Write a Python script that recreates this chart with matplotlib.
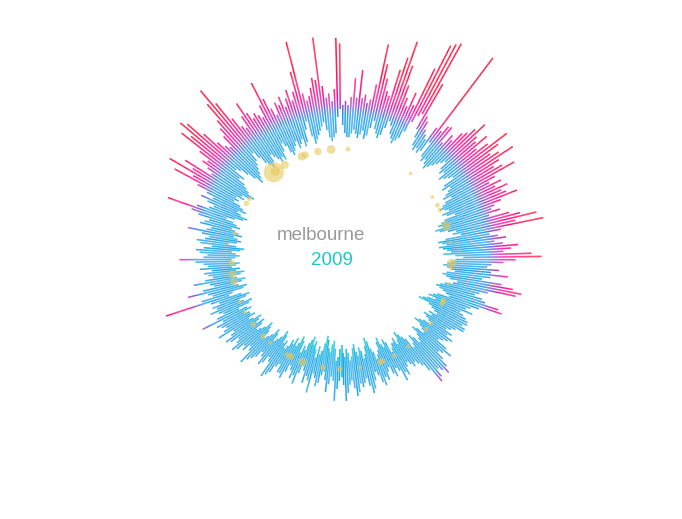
import numpy as np
import matplotlib
matplotlib.use("Agg")
import matplotlib.pyplot as plt
from matplotlib.collections import LineCollection
from matplotlib.colors import LinearSegmentedColormap

# daily max / min temperature (deg C)
max_jan = [22, 23, 22, 24, 28.8, 24, 31, 24, 25, 23, 24, 28, 38.4, 33.5, 30, 27, 26, 33, 36.5, 41,
           35, 30, 27, 25, 29, 26, 36.5, 43.4, 44.3, 45.1, 34]
min_jan = [17, 15, 14, 14, 15, 16, 15, 14, 15, 16, 14, 15, 17, 19, 17, 16, 15, 16, 18, 20,
           19, 17, 16, 15, 16, 17, 19, 22, 24, 25, 21]
max_feb = [25, 24, 22, 21, 20, 24, 46.4, 24, 26, 26.4, 22, 25, 24, 27, 28, 30, 32.6, 29, 28, 31,
           27, 30, 35.4, 32, 29, 31, 34.7, 30]
min_feb = [19, 17, 16, 17, 16, 17, 20, 16, 15, 16, 15, 14, 15, 16, 17, 18, 19, 17, 16, 17,
           15, 16, 17, 18, 15, 14, 16, 15]
max_mar = [28, 30, 33, 27, 25, 28, 26, 29, 27, 28, 30.6, 26, 24, 23, 25, 22, 27, 29.6, 33.6, 28,
           35, 24, 21, 23, 25, 22, 24, 27.8, 26, 24, 31]
min_mar = [14, 13, 15, 13, 12, 11, 12, 13, 11, 12, 14, 11, 10, 9, 10, 8, 9, 11, 13, 12,
           14, 10, 8, 9, 10, 8, 9, 10, 11, 9, 12]
max_apr = [33.5, 27, 24, 21, 20, 23, 21, 25.3, 21, 19, 24, 27, 29.3, 28, 21, 19, 18, 20, 21, 24.6,
           25.8, 20, 18, 17, 19, 16, 17, 18, 18.8, 19]
min_apr = [14, 12, 11, 10, 9, 10, 11, 12, 10, 9, 10, 11, 13, 12, 10, 9, 8, 9, 10, 11,
           12, 9, 8, 7, 9, 7, 6, 5, 8, 9]
max_may = [18, 19, 19, 17, 16, 15, 17, 16, 18, 17, 16, 15, 18, 20, 18, 17, 19, 21, 22.5, 21,
           20, 22, 23, 19, 17, 16, 15, 16, 15, 14, 15]
min_may = [10, 11, 9, 10, 8, 9, 10, 11, 9, 8, 7, 9, 10, 11, 9, 8, 10, 11, 12, 10,
           9, 11, 12, 9, 8, 7, 6, 8, 9, 7, 8]
max_jun = [17, 16, 18, 15, 14, 16, 15, 13, 14, 16, 15, 17, 16, 14, 13, 15, 17, 18, 16, 14,
           15, 16, 15, 17, 18, 16, 14, 15, 17, 19]
min_jun = [8, 9, 10, 7, 6, 8, 7, 5, 6, 8, 9, 10, 8, 7, 5, 4, 6, 8, 9, 7,
           6, 8, 7, 5, 6, 8, 9, 7, 6, 8]
max_jul = [15, 13, 14, 16, 19, 14, 13, 15, 17, 14, 12, 13, 15, 16, 14, 13, 18, 15, 14, 16,
           13, 12, 14, 17, 15, 16, 14, 13, 15, 17, 16]
min_jul = [7, 5, 6, 8, 9, 6, 4, 5, 7, 6, 4, 3, 5, 7, 8, 6, 9, 7, 5, 6,
           4, 5, 6, 8, 7, 9, 6, 5, 7, 8, 6]
max_aug = [16, 14, 15, 17, 18, 19, 15, 14, 16, 17, 15, 14, 16, 17, 18, 19.5, 16, 15, 17, 16,
           18, 19, 17, 16, 18, 19, 17, 16, 20, 18, 17]
min_aug = [8, 7, 9, 10, 8, 9, 7, 6, 8, 9, 10, 8, 7, 9, 10, 11, 9, 8, 7, 9,
           10, 11, 9, 8, 10, 9, 8, 10, 11, 9, 10]
max_sep = [18, 19, 17, 22.4, 18, 16, 17, 19, 17, 18, 16, 18, 29.6, 20, 17, 18, 23, 19, 16, 17,
           21, 18, 16, 17, 18, 16, 19, 17, 18, 20]
min_sep = [10, 11, 9, 10, 12, 9, 8, 10, 11, 9, 8, 10, 13, 12, 9, 8, 10, 11, 9, 8,
           10, 11, 9, 8, 10, 9, 11, 10, 9, 11]
max_oct = [24, 18, 17, 19, 20, 18, 16, 19, 20, 18, 17, 19, 22.6, 18, 17, 20, 19, 18, 21, 23,
           29.5, 22, 19, 18, 20, 22, 19, 21, 24, 30.9, 26]
min_oct = [11, 10, 9, 10, 11, 9, 8, 10, 12, 10, 9, 10, 11, 9, 10, 11, 12, 10, 11, 12,
           14, 12, 10, 9, 11, 12, 10, 11, 12, 14, 13]
max_nov = [33.3, 27, 29.7, 22.3, 24, 26, 25, 28, 34.4, 32, 36.2, 34.7, 30, 26, 24, 23, 26, 28, 30, 34.7,
           38.4, 33.5, 28, 25, 24, 27, 30.4, 27, 25, 26]
min_nov = [14, 12, 13, 11, 10, 12, 13, 14, 16, 15, 18, 17, 15, 13, 11, 12, 13, 14, 15, 16,
           18, 16, 14, 13, 12, 13, 15, 14, 13, 12]
max_dec = [25, 24, 27, 32.9, 28, 25, 23, 26, 25, 27, 24, 26, 28, 25, 27, 32, 39.5, 26, 24, 25,
           27, 29.4, 28.7, 39.3, 27, 24, 25, 23, 26, 38.8, 37.4]
min_dec = [13, 12, 14, 16, 15, 13, 12, 13, 14, 15, 13, 14, 15, 13, 14, 17, 19, 15, 13, 14,
           15, 16, 17, 18, 16, 14, 13, 14, 15, 19, 21]

# rainfall (day of year, mm)
rain_day = [3, 39, 56, 61, 64, 73, 82, 93, 96, 104, 113, 114, 115, 127, 131, 144, 153, 160, 161, 172,
            183, 192, 203, 210, 212, 223, 228, 236, 244, 250, 261, 265, 271, 287, 304, 307, 326, 327, 333, 343,
            345, 352, 359]
rain_mm = [0.9, 0.4, 0.4, 0.9, 0.9, 6.0, 0.4, 6.0, 0.4, 0.4, 0.8, 1.6, 1.0, 0.9, 0.9, 0.6, 0.9, 1.6, 2.4, 0.6,
           1.6, 1.6, 4.8, 3.5, 0.9, 0.6, 1.6, 1.6, 0.6, 0.6, 3.5, 4.8, 2.4, 0.6, 1.6, 0.9, 39.0, 6.0, 4.8, 4.8,
           3.5, 3.5, 5.3]

city = "melbourne"
year = "2009"

tmax = np.array(max_jan + max_feb + max_mar + max_apr + max_may + max_jun +
                max_jul + max_aug + max_sep + max_oct + max_nov + max_dec, dtype=float)
tmin = np.array(min_jan + min_feb + min_mar + min_apr + min_may + min_jun +
                min_jul + min_aug + min_sep + min_oct + min_nov + min_dec, dtype=float)
n_days = len(tmax)

# colour by temperature: teal -> blue -> (short purple) -> pink -> red
t_lo, t_hi = 0.0, 50.0
stops = [(0, "#10cfc4"), (5, "#14c2d8"), (10, "#1fa9ea"), (19.5, "#229fec"), (21, "#5a6fd8"),
         (22.5, "#b534c0"), (24.5, "#fa0f96"), (28, "#ff0c72"), (31, "#ff0d40"), (50, "#f70a30")]
cmap = LinearSegmentedColormap.from_list(
    "temp", [((t - t_lo) / (t_hi - t_lo), c) for t, c in stops])

W, H, dpi = 682, 519, 100
fig = plt.figure(figsize=(W / dpi, H / dpi), dpi=dpi)
cx, cy = 341.5, 259.0
r_bottom, r_top = -16.5, 50.0
rad = 4.0 * (r_top - r_bottom)
ax = fig.add_axes([(cx - rad) / W, (H - cy - rad) / H, 2 * rad / W, 2 * rad / H], projection="polar")
ax.set_theta_zero_location("N")
ax.set_theta_direction(-1)
ax.set_ylim(r_bottom, r_top)
ax.set_xlim(0, 2 * np.pi)
ax.axis("off")

theta = (np.arange(n_days) + 0.5) / n_days * 2 * np.pi

segs, cols = [], []
for th, lo, hi in zip(theta, tmin, tmax):
    ts = np.linspace(lo, hi, max(int((hi - lo) / 0.25), 2) + 1)
    for a, b in zip(ts[:-1], ts[1:]):
        segs.append([(th, a), (th, b)])
        cols.append(cmap(((a + b) / 2 - t_lo) / (t_hi - t_lo)))
lc = LineCollection(segs, colors=cols, linewidths=1.1, capstyle="butt", zorder=2)
ax.add_collection(lc)

rain_theta = (np.array(rain_day) + 0.5) / n_days * 2 * np.pi
rain_r = 1.0 + 1.45 * np.sqrt(rain_mm)
ax.scatter(rain_theta, np.full(len(rain_day), 11.0), s=(1.44 * rain_r) ** 2,
           color="#e6c85c", alpha=0.6, linewidths=0, zorder=3)

fig.text(320.5 / W, 1 - 240 / H, city, ha="center", va="baseline", fontsize=13.5,
         color="#999999", family="Liberation Sans")
fig.text(331.7 / W, 1 - 265 / H, year, ha="center", va="baseline", fontsize=13.5,
         color="#1ec6c6", family="Liberation Sans")

fig.savefig("out.png", dpi=dpi, facecolor="white")
